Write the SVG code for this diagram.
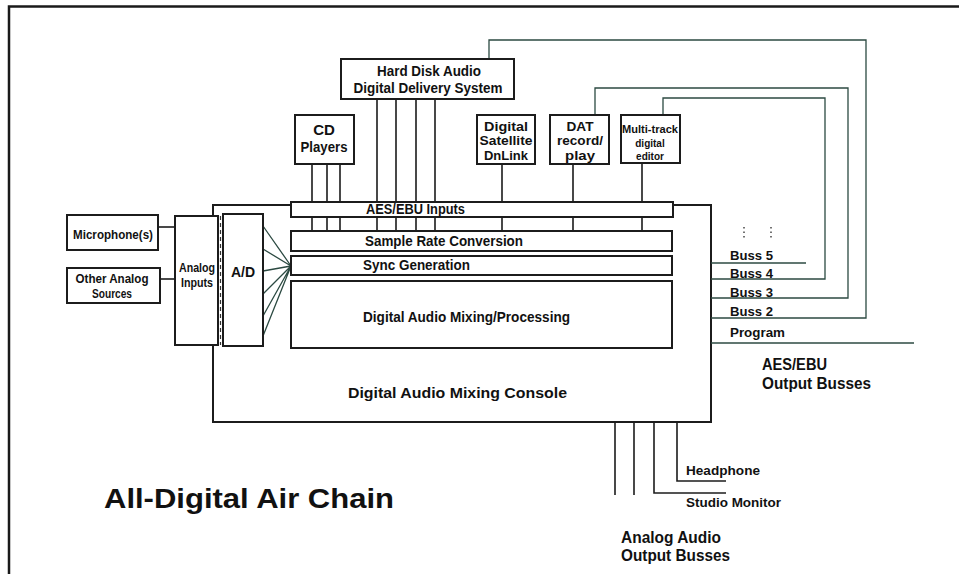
<svg xmlns="http://www.w3.org/2000/svg" width="959" height="574" viewBox="0 0 959 574">
<style>
  .box { fill: #fff; stroke: #1c1c1c; stroke-width: 2; }
  .ln { fill: none; stroke: #1c1c1c; stroke-width: 1.6; }
  .gl { fill: none; stroke: #2c4a42; stroke-width: 1.3; }
  .frame { fill: none; stroke: #1a1a1a; stroke-width: 2.5; }
  text { font-family: "Liberation Sans", Arial, sans-serif; font-weight: bold; fill: #111; }
  .c { text-anchor: middle; }
</style>
<rect width="959" height="574" fill="#fff"/>
<path class="frame" d="M9 574 V6.5 H959"/>

<g id="console">
  <rect class="box" x="213" y="205" width="498" height="217"/>
  <text x="348" y="398" font-size="14" textLength="219" lengthAdjust="spacingAndGlyphs">Digital Audio Mixing Console</text>
</g>

<g id="connectors">
  <line class="ln" x1="158" y1="227" x2="175" y2="227"/>
  <line class="ln" x1="160" y1="279" x2="175" y2="279"/>
  <path class="gl" d="M263 226 L291 266 M263 249 L291 266 M263 271 L291 266 M263 294 L291 266 M263 316 L291 266 M263 336 L291 266"/>
  <path class="ln" d="M312 164 V231 M327 164 V231 M340 164 V231"/>
  <path class="ln" d="M377 99 V231 M396 99 V231 M416 99 V231 M435 99 V231"/>
  <path class="ln" d="M502 164 V231 M573 164 V231 M642 163 V231"/>
  <path class="gl" d="M711 263 H806"/>
  <path class="gl" d="M711 279 H825 V98 H663 V115"/>
  <path class="gl" d="M711 298 H848 V88 H595 V115"/>
  <path class="gl" d="M711 318 H866 V40 H489 V59"/>
  <path class="gl" d="M711 343 H914"/>
  <path d="M744 227 V240 M771 227 V240" stroke="#444" stroke-width="1.5" stroke-dasharray="1.5 3" fill="none"/>
  <path class="ln" d="M615 422 V495 M634 422 V495 M654 422 V493 H726 M677 422 V481 H726"/>
</g>

<g id="microphone">
  <rect class="box" x="67" y="215" width="91" height="35"/>
  <text x="73" y="239" font-size="13" textLength="80" lengthAdjust="spacingAndGlyphs">Microphone(s)</text>
</g>
<g id="other-analog">
  <rect class="box" x="67" y="268" width="93" height="35"/>
  <text class="c" x="112" y="283" font-size="12" textLength="73" lengthAdjust="spacingAndGlyphs">Other Analog</text>
  <text class="c" x="112" y="298" font-size="12" textLength="40" lengthAdjust="spacingAndGlyphs">Sources</text>
</g>
<g id="analog-inputs">
  <rect class="box" x="175" y="216" width="43" height="129"/>
  <line x1="220.5" y1="216" x2="220.5" y2="345" stroke="#333" stroke-width="1.2" stroke-dasharray="4 3"/>
  <text class="c" x="197" y="272" font-size="12" textLength="36" lengthAdjust="spacingAndGlyphs">Analog</text>
  <text class="c" x="197" y="287" font-size="12" textLength="32" lengthAdjust="spacingAndGlyphs">Inputs</text>
</g>
<g id="ad">
  <rect class="box" x="223" y="214" width="40" height="132"/>
  <text class="c" x="243" y="277" font-size="14">A/D</text>
</g>

<g id="aes-inputs">
  <rect class="box" x="291" y="202" width="382" height="15"/>
  <text x="366" y="214" font-size="14" textLength="99" lengthAdjust="spacingAndGlyphs">AES/EBU Inputs</text>
</g>
<g id="src">
  <rect class="box" x="291" y="231" width="381" height="20"/>
  <text x="365" y="246" font-size="15" textLength="158" lengthAdjust="spacingAndGlyphs">Sample Rate Conversion</text>
</g>
<g id="sync">
  <rect class="box" x="291" y="256" width="381" height="19"/>
  <text x="363" y="270" font-size="15" textLength="107" lengthAdjust="spacingAndGlyphs">Sync Generation</text>
</g>
<g id="mixing">
  <rect class="box" x="291" y="281" width="381" height="67"/>
  <text x="363" y="322" font-size="15" textLength="207" lengthAdjust="spacingAndGlyphs">Digital Audio Mixing/Processing</text>
</g>

<g id="hard-disk">
  <rect class="box" x="341" y="59" width="173" height="40"/>
  <text class="c" x="429" y="76" font-size="14" textLength="104" lengthAdjust="spacingAndGlyphs">Hard Disk Audio</text>
  <text class="c" x="428" y="93" font-size="14" textLength="149" lengthAdjust="spacingAndGlyphs">Digital Delivery System</text>
</g>
<g id="cd">
  <rect class="box" x="295" y="115" width="59" height="49"/>
  <text class="c" x="324" y="135" font-size="15">CD</text>
  <text class="c" x="324" y="152" font-size="15" textLength="47" lengthAdjust="spacingAndGlyphs">Players</text>
</g>
<g id="satellite">
  <rect class="box" x="477" y="115" width="58" height="49"/>
  <text class="c" x="506" y="131" font-size="13" textLength="44" lengthAdjust="spacingAndGlyphs">Digital</text>
  <text class="c" x="506" y="145" font-size="13" textLength="53" lengthAdjust="spacingAndGlyphs">Satellite</text>
  <text class="c" x="506" y="160" font-size="13" textLength="44" lengthAdjust="spacingAndGlyphs">DnLink</text>
</g>
<g id="dat">
  <rect class="box" x="550" y="115" width="59" height="49"/>
  <text class="c" x="580" y="131" font-size="13" textLength="27" lengthAdjust="spacingAndGlyphs">DAT</text>
  <text class="c" x="580" y="145" font-size="13" textLength="46" lengthAdjust="spacingAndGlyphs">record/</text>
  <text class="c" x="580" y="160" font-size="13" textLength="30" lengthAdjust="spacingAndGlyphs">play</text>
</g>
<g id="editor">
  <rect class="box" x="621" y="115" width="59" height="48"/>
  <text class="c" x="650" y="133" font-size="10" textLength="56" lengthAdjust="spacingAndGlyphs">Multi-track</text>
  <text class="c" x="650" y="147" font-size="10">digital</text>
  <text class="c" x="650" y="160" font-size="10">editor</text>
</g>

<g id="bus-labels">
  <text x="730" y="260" font-size="13" textLength="43" lengthAdjust="spacingAndGlyphs">Buss 5</text>
  <text x="730" y="278" font-size="13" textLength="43" lengthAdjust="spacingAndGlyphs">Buss 4</text>
  <text x="730" y="297" font-size="13" textLength="43" lengthAdjust="spacingAndGlyphs">Buss 3</text>
  <text x="730" y="316" font-size="13" textLength="43" lengthAdjust="spacingAndGlyphs">Buss 2</text>
  <text x="730" y="337" font-size="13" textLength="55" lengthAdjust="spacingAndGlyphs">Program</text>
  <text x="762" y="370" font-size="17" textLength="65" lengthAdjust="spacingAndGlyphs">AES/EBU</text>
  <text x="762" y="389" font-size="17" textLength="109" lengthAdjust="spacingAndGlyphs">Output Busses</text>
</g>
<g id="analog-out-labels">
  <text x="686" y="475" font-size="13" textLength="74" lengthAdjust="spacingAndGlyphs">Headphone</text>
  <text x="686" y="507" font-size="13" textLength="95" lengthAdjust="spacingAndGlyphs">Studio Monitor</text>
  <text x="621" y="543" font-size="17" textLength="100" lengthAdjust="spacingAndGlyphs">Analog Audio</text>
  <text x="621" y="561" font-size="17" textLength="109" lengthAdjust="spacingAndGlyphs">Output Busses</text>
</g>
<text x="104" y="508" font-size="28" textLength="290" lengthAdjust="spacingAndGlyphs">All-Digital Air Chain</text>
</svg>
